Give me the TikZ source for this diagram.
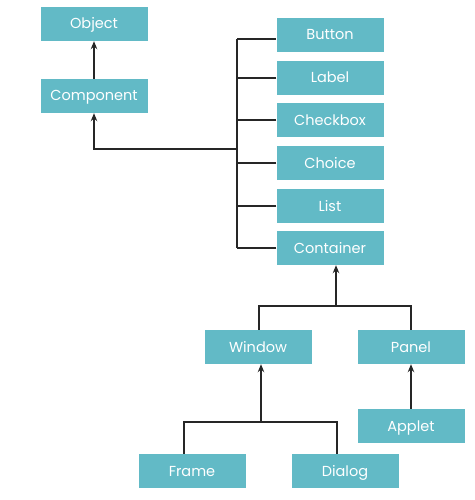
\documentclass[tikz,border=0pt]{standalone}
\usepackage{fontspec}
\setmainfont{Poppins}
\usetikzlibrary{arrows.meta}
\definecolor{boxteal}{HTML}{62BAC6}
\begin{document}
\begin{tikzpicture}[x=1pt,y=-1pt,
  cls/.style={fill=boxteal,draw=none,minimum width=107pt,minimum height=34pt,inner sep=0pt,text height=10pt,text depth=0pt,text=white,font=\fontsize{14.5}{16}\selectfont},
  conn/.style={line width=1.3pt,draw=black!85},
  arr/.style={conn,-{Stealth[length=8pt,width=6.5pt]}}]
\useasboundingbox (0,0) rectangle (474,500);
\node[cls] (object) at (94,24) {Object};
\node[cls] (component) at (94,96) {Component};
\node[cls] (button) at (330,35) {Button};
\node[cls] (label) at (330,78) {Label};
\node[cls] (checkbox) at (330,120) {Checkbox};
\node[cls] (choice) at (330,163) {Choice};
\node[cls] (list) at (330,206) {List};
\node[cls] (container) at (330,248) {Container};
\node[cls] (window) at (258,347) {Window};
\node[cls] (panel) at (411,347) {Panel};
\node[cls] (applet) at (411,426) {Applet};
\node[cls] (frame) at (192,471) {Frame};
\node[cls] (dialog) at (345,471) {Dialog};
% bus
\coordinate (bustop) at (237,39);
\coordinate (busbot) at (237,248);
\coordinate (busmid) at (237,149);
\draw[conn] (bustop) -- (busbot);
\draw[conn] (bustop) -- (button.west |- bustop);
\foreach \n in {label,checkbox,choice,list,container}
  \draw[conn] (\n.west) -- (\n.west -| bustop);
\draw[arr] (busmid) -| (component.south);
\draw[arr] (component.north) -- (object.south);
% container children
\coordinate (cj) at (336,306);
\draw[arr] (cj) -- (container.south -| cj);
\draw[conn] (window.north -| 259,0) |- (cj) -| (panel.north);
% window children
\coordinate (wj) at (261,422);
\draw[arr] (wj) -- (window.south -| wj);
\draw[conn] (frame.north -| 184,0) |- (wj) -| (dialog.north -| 337,0);
\draw[arr] (applet.north) -- (panel.south);
\end{tikzpicture}
\end{document}
